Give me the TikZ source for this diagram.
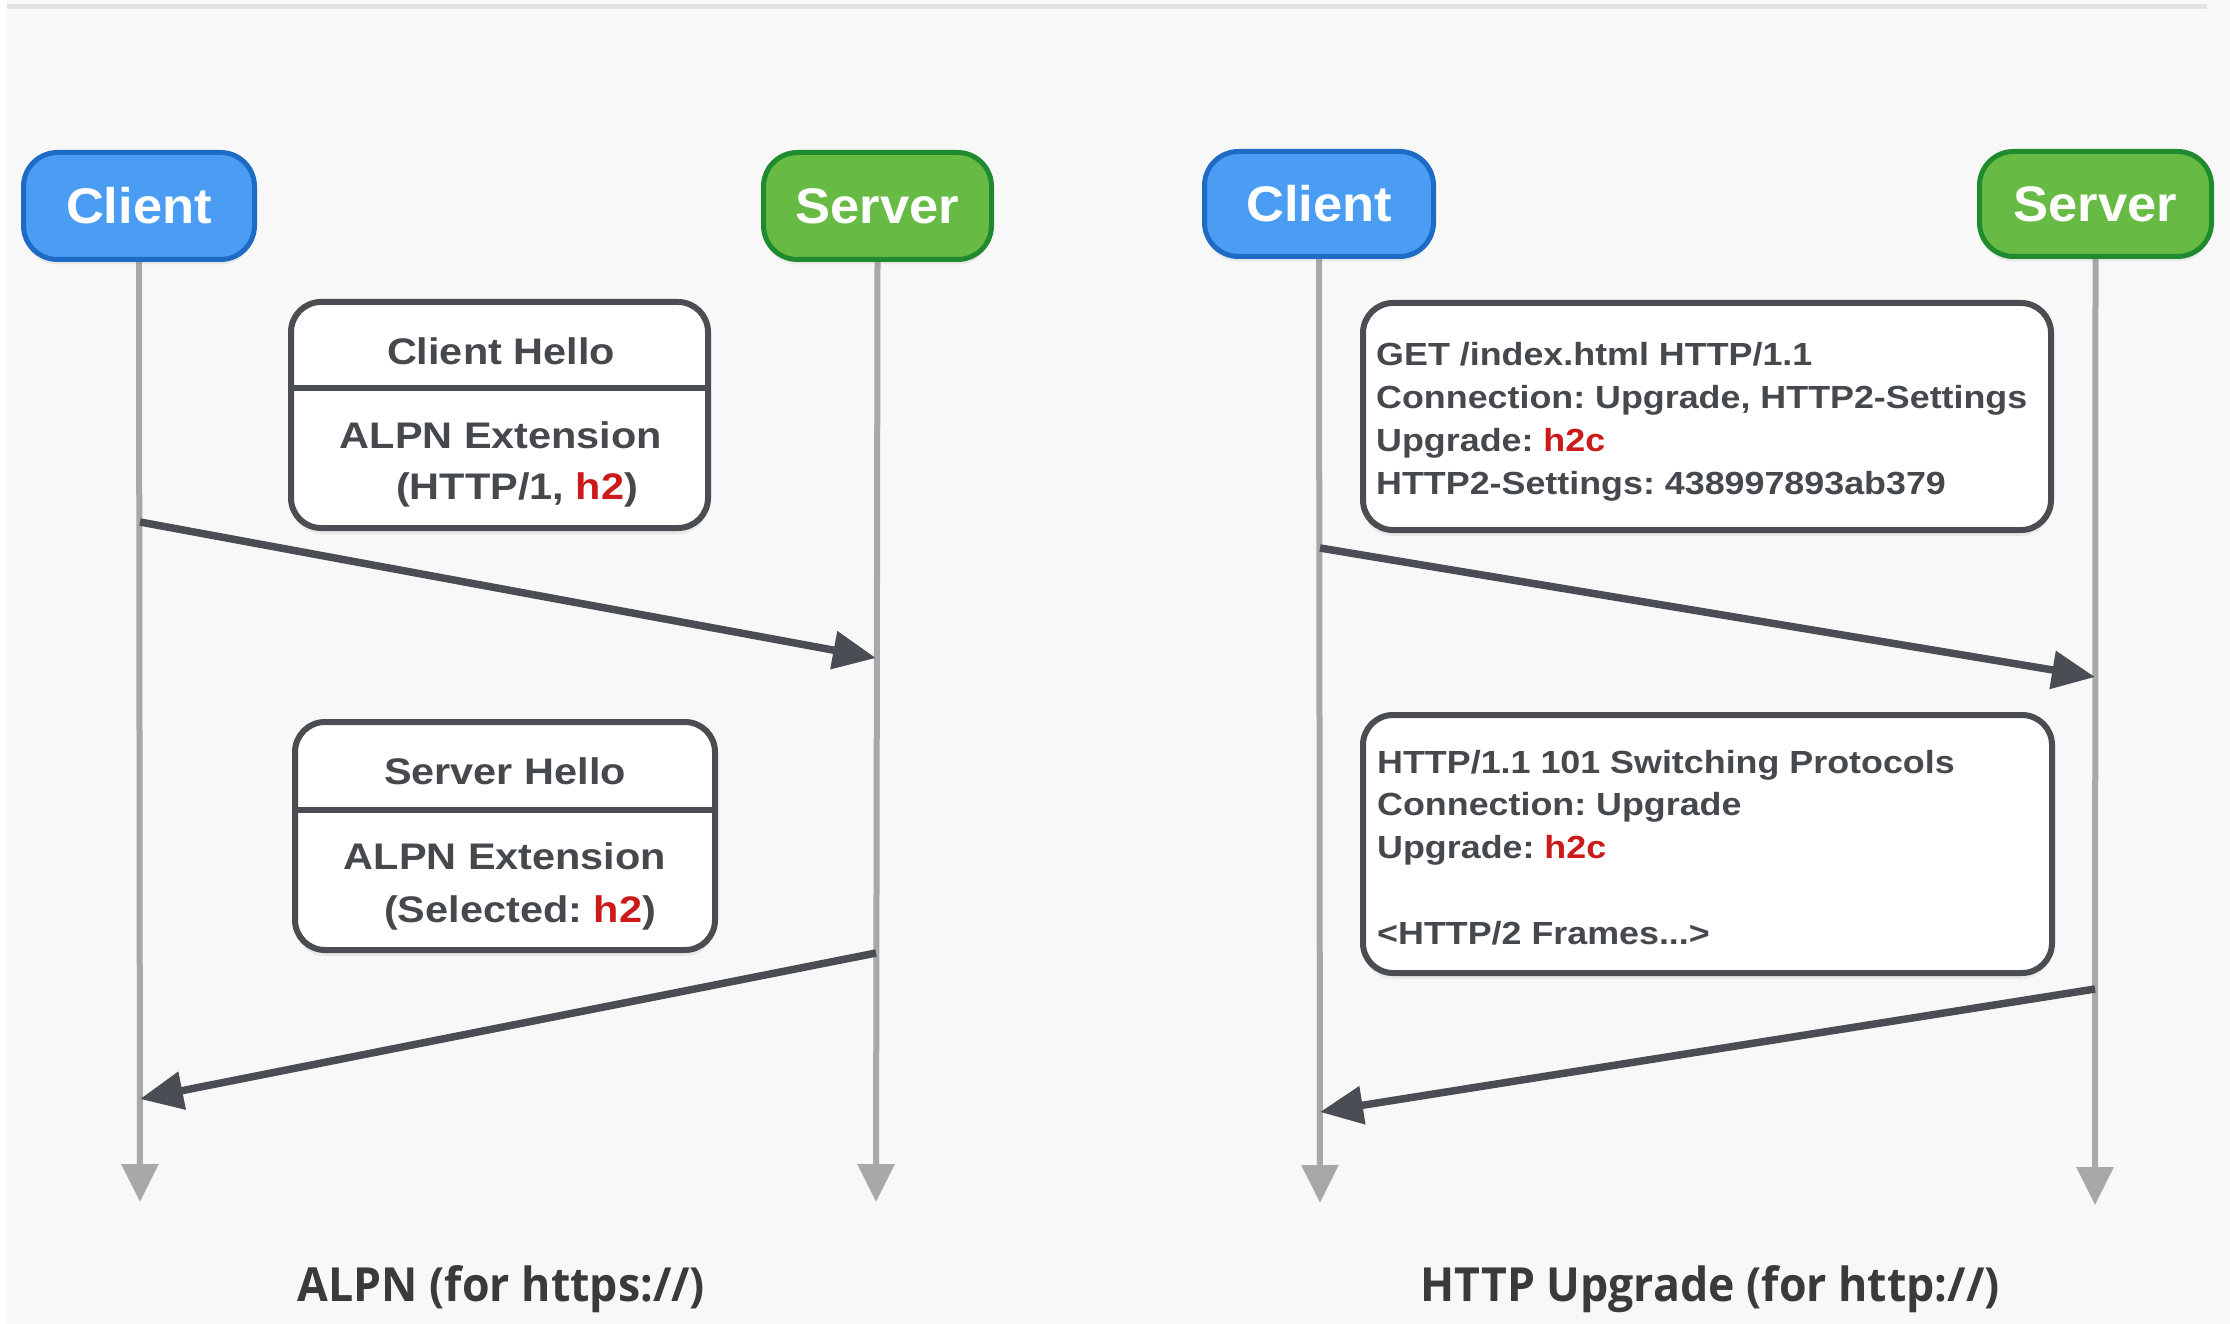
\documentclass[tikz,border=0pt]{standalone}
\usepackage{fontspec}
\setmainfont{Liberation Sans}
\newfontfamily\boxfont[FakeStretch=1.12]{Liberation Sans}
\newfontfamily\labfont[FakeStretch=1.05]{Liberation Sans}
\newfontfamily\capfont[FakeStretch=0.95]{Open Sans}
\usetikzlibrary{arrows.meta,shadows}
\pgfdeclarelayer{backmost}
\pgfdeclarelayer{lifelayer}
\pgfsetlayers{backmost,lifelayer,main}
\frenchspacing
\definecolor{bgc}{HTML}{F8F8F8}
\definecolor{toplinec}{HTML}{E2E2E2}
\definecolor{clientfill}{HTML}{4A9DF3}
\definecolor{clientdraw}{HTML}{1E6BC6}
\definecolor{serverfill}{HTML}{67BB45}
\definecolor{serverdraw}{HTML}{1F8A2E}
\definecolor{boxc}{HTML}{4A4D52}
\definecolor{arrc}{HTML}{4A4D54}
\definecolor{lifec}{HTML}{A8A8A8}
\definecolor{textc}{HTML}{45484D}
\definecolor{capc}{HTML}{3A3A3A}
\definecolor{hred}{HTML}{CC1A1A}
\begin{document}
\frenchspacing
\begin{tikzpicture}[x=1pt,y=-1pt,
  actor/.style={draw, line width=5pt, rounded corners=34pt, inner sep=0pt,
    text=white, font=\labfont\bfseries\fontsize{50}{60}\selectfont,
    drop shadow={shadow xshift=0pt, shadow yshift=-5pt, opacity=0.12}},
  clientbox/.style={actor, fill=clientfill, draw=clientdraw},
  serverbox/.style={actor, fill=serverfill, draw=serverdraw},
  msgbox/.style={draw=boxc, fill=white, line width=6pt, rounded corners=30pt, inner sep=0pt,
    drop shadow={shadow xshift=0pt, shadow yshift=-6pt, opacity=0.12}},
  divline/.style={draw=boxc, line width=6pt},
  lt/.style={anchor=base, inner sep=0pt, text=textc, font=\boxfont\bfseries\fontsize{37}{44}\selectfont},
  rt/.style={anchor=base west, inner sep=0pt, text=textc, font=\boxfont\bfseries\fontsize{32}{43}\selectfont},
  captext/.style={anchor=base, inner sep=0pt, text=capc, font=\capfont\bfseries\fontsize{47}{56}\selectfont},
  life/.style={draw=lifec, line width=6pt, -{Triangle[length=38pt,width=36pt]}},
  msg/.style={draw=arrc, line width=7.5pt, -{Triangle[length=43pt,width=37pt]}}
]
\useasboundingbox (0,0) rectangle (2230,1324);
\begin{pgfonlayer}{backmost}
\fill[bgc] (0,0) rectangle (2230,1324);
\fill[white] (0,0) rectangle (7,1324);
\draw[toplinec, line width=5pt] (7,7) -- (2207,7);
\end{pgfonlayer}

% ---------- actors ----------
\node[clientbox, minimum width=231pt, minimum height=107pt] (cL) at (139,206) {Client};
\node[serverbox, minimum width=228pt, minimum height=107pt] (sL) at (877.5,206) {Server};
\node[clientbox, minimum width=229pt, minimum height=105pt] (cR) at (1319,204) {Client};
\node[serverbox, minimum width=232pt, minimum height=105pt] (sR) at (2095.5,204) {Server};
\coordinate (cLend) at (140,1202);
\coordinate (sLend) at (876,1202);
\coordinate (cRend) at (1320,1203);
\coordinate (sRend) at (2095,1205);

% lifelines (behind actors)
\begin{pgfonlayer}{lifelayer}
\draw[life] (cL.south) -- (cLend);
\draw[life] (sL.south) -- (sLend);
\draw[life] (cR.south) -- (cRend);
\draw[life] (sR.south) -- (sRend);
\end{pgfonlayer}

% ---------- left message boxes ----------
\node[msgbox, minimum width=417pt, minimum height=226pt] (b1) at (499.5,415) {};
\draw[divline] (b1.west |- 0,388) -- (b1.east |- 0,388);
\node[lt] (t1a) at (501,364) {Client Hello};
\node[lt] (t1b) at (501,448) {ALPN Extension};
\node[lt] (t1c) at (517,499) {(HTTP/1, \textcolor{hred}{h2})};

\node[msgbox, minimum width=420pt, minimum height=228pt] (b2) at (505,836) {};
\draw[divline] (b2.west |- 0,810) -- (b2.east |- 0,810);
\node[lt] (t2a) at (505,784) {Server Hello};
\node[lt] (t2b) at (505,869) {ALPN Extension};
\node[lt] (t2c) at (520,922) {(Selected: \textcolor{hred}{h2})};

% ---------- right message boxes ----------
\node[msgbox, minimum width=688pt, minimum height=227pt] (b3) at (1707,416.5) {};
\node[rt] (u1a) at (1376,365) {GET /index.html HTTP/1.1};
\node[rt] (u1b) at (1376,408) {Connection: Upgrade, HTTP2-Settings};
\node[rt] (u1c) at (1376,451) {Upgrade: \textcolor{hred}{h2c}};
\node[rt] (u1d) at (1376,494) {HTTP2-Settings: 438997893ab379};

\node[msgbox, minimum width=689pt, minimum height=258pt] (b4) at (1707.5,844) {};
\node[rt] (u2a) at (1377,773) {HTTP/1.1 101 Switching Protocols};
\node[rt] (u2b) at (1377,815) {Connection: Upgrade};
\node[rt] (u2c) at (1377,858) {Upgrade: \textcolor{hred}{h2c}};
\node[rt] (u2d) at (1377,944) {<HTTP/2 Frames...>};

% ---------- messages ----------
\coordinate (m1s) at (140,522);
\coordinate (m1e) at (876,658);
\coordinate (m2s) at (876,953);
\coordinate (m2e) at (140,1099);
\coordinate (m3s) at (1320,548);
\coordinate (m3e) at (2095,677);
\coordinate (m4s) at (2095,989);
\coordinate (m4e) at (1320,1112);
\draw[msg] (m1s) -- (m1e);
\draw[msg] (m2s) -- (m2e);
\draw[msg] (m3s) -- (m3e);
\draw[msg] (m4s) -- (m4e);

% ---------- captions ----------
\node[captext] (capL) at (501.5,1301) {ALPN (for https://)};
\node[captext] (capR) at (1710,1301) {HTTP Upgrade (for http://)};
\end{tikzpicture}
\end{document}
